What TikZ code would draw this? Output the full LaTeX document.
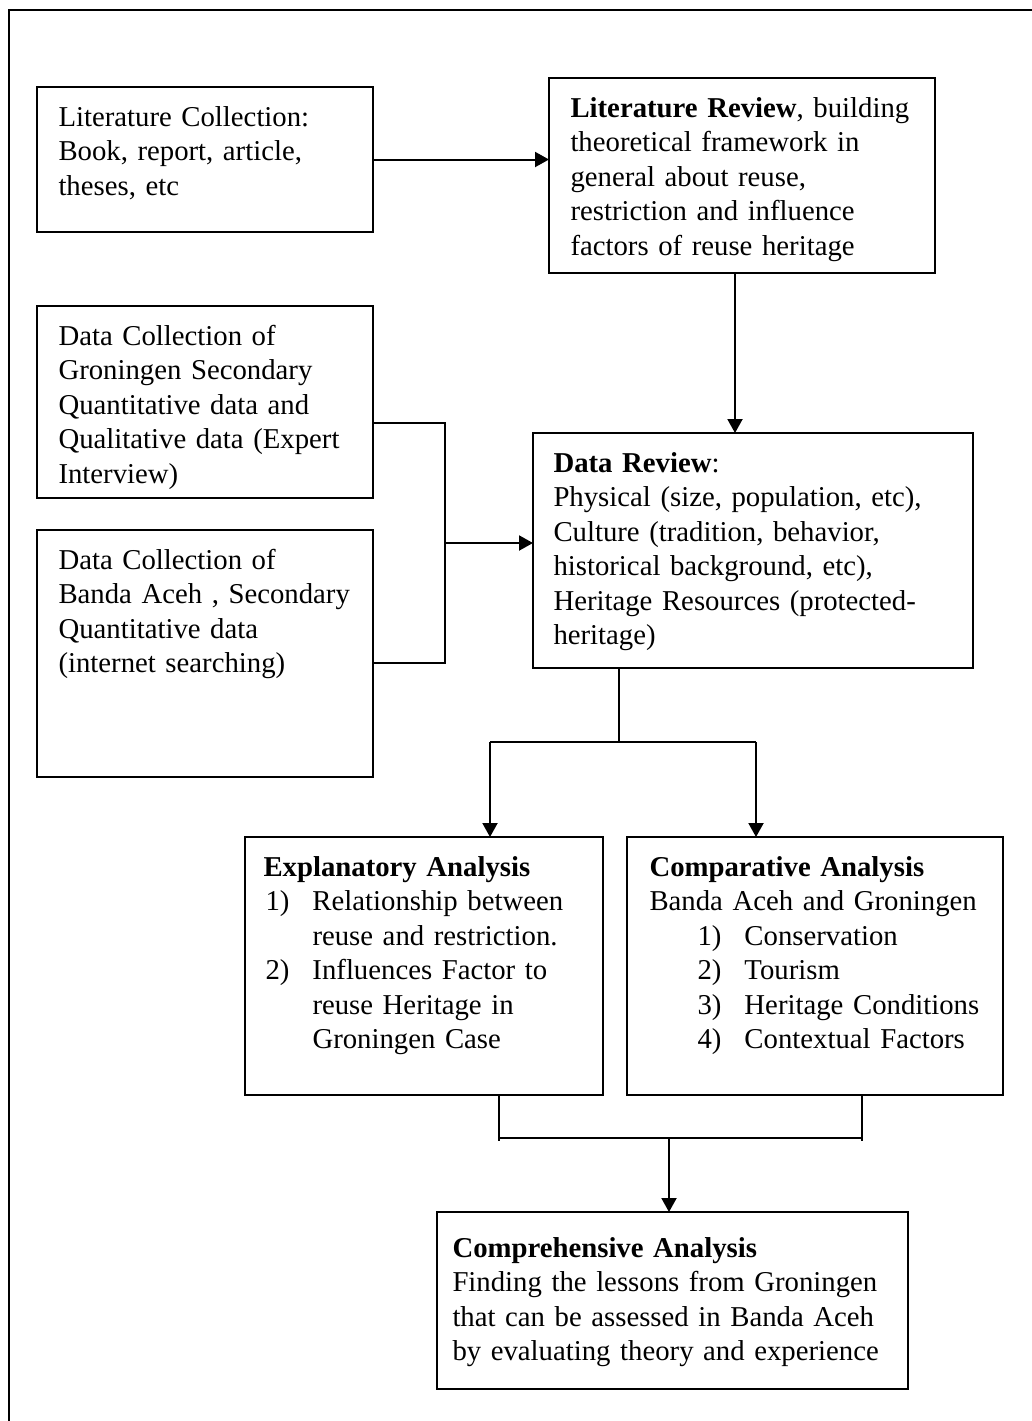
\documentclass[tikz,border=0pt]{standalone}
\usepackage{fontspec}
\setmainfont{Liberation Serif}
\usetikzlibrary{arrows.meta}
\begin{document}
\begin{tikzpicture}[x=0.4pt,y=-0.4pt,
  stepbox/.style={draw, line width=0.8pt, anchor=north west, inner sep=0pt, outer sep=0pt},
  boxtext/.style={anchor=base west, inner sep=0pt, align=left, text width=190pt,
    font=\fontsize{11.5pt}{13.8pt}\selectfont},
  link/.style={line width=0.8pt},
  arr/.style={link, -{Triangle[length=5.6pt,width=6pt]}},
  frame/.style={line width=1pt}]
\useasboundingbox (0,0) rectangle (1032,1421);
% page frame (left and top edges)
\draw[frame] (9,1430) -- (9,10) -- (1040,10);

% boxes
\node[stepbox, minimum width=134.4pt, minimum height=58pt]   (lc)  at (37,87)   {};
\node[stepbox, minimum width=154.4pt, minimum height=78pt]   (lr)  at (549,78)  {};
\node[stepbox, minimum width=134.4pt, minimum height=76.8pt] (dc1) at (37,306)  {};
\node[stepbox, minimum width=134.4pt, minimum height=98.8pt] (dc2) at (37,530)  {};
\node[stepbox, minimum width=176pt,   minimum height=94pt]   (dr)  at (533,433) {};
\node[stepbox, minimum width=143.2pt, minimum height=103.2pt] (ea) at (245,837) {};
\node[stepbox, minimum width=150.4pt, minimum height=103.2pt] (ca) at (627,837) {};
\node[stepbox, minimum width=188.4pt, minimum height=70.8pt] (co)  at (437,1212) {};

% box texts
\node[boxtext] (lc-t) at (58,126) {Literature Collection:\\Book, report, article,\\theses, etc};
\node[boxtext] (lr-t) at (570,117) {\textbf{Literature Review}, building\\theoretical framework in\\general about reuse,\\restriction and influence\\factors of reuse heritage};
\node[boxtext] (dc1-t) at (58,345) {Data Collection of\\Groningen Secondary\\Quantitative data and\\Qualitative data (Expert\\Interview)};
\node[boxtext] (dc2-t) at (58,569) {Data Collection of\\Banda Aceh , Secondary\\Quantitative data\\(internet searching)};
\node[boxtext] (dr-t) at (553,472) {\textbf{Data Review}:\\Physical (size, population, etc),\\Culture (tradition, behavior,\\historical background, etc),\\Heritage Resources (protected-\\heritage)};
\node[boxtext] (ea-t) at (263,876) {\textbf{Explanatory Analysis}\\
  \hspace*{0.8pt}\makebox[18.8pt][l]{1)}Relationship between\\
  \hspace*{0.8pt}\hspace*{18.8pt}reuse and restriction.\\
  \hspace*{0.8pt}\makebox[18.8pt][l]{2)}Influences Factor to\\
  \hspace*{0.8pt}\hspace*{18.8pt}reuse Heritage in\\
  \hspace*{0.8pt}\hspace*{18.8pt}Groningen Case};
\node[boxtext] (ca-t) at (649,876) {\textbf{Comparative Analysis}\\Banda Aceh and Groningen\\
  \hspace*{19.2pt}\makebox[18.8pt][l]{1)}Conservation\\
  \hspace*{19.2pt}\makebox[18.8pt][l]{2)}Tourism\\
  \hspace*{19.2pt}\makebox[18.8pt][l]{3)}Heritage Conditions\\
  \hspace*{19.2pt}\makebox[18.8pt][l]{4)}Contextual Factors};
\node[boxtext] (co-t) at (452,1257) {\textbf{Comprehensive Analysis}\\Finding the lessons from Groningen\\that can be assessed in Banda Aceh\\by evaluating theory and experience};

% junction points of the connectors
\coordinate (dn) at (735,0);
\coordinate (jt) at (445,423);
\coordinate (jm) at (445,543);
\coordinate (jb) at (445,663);
\coordinate (sm) at (619,742);
\coordinate (sl) at (490,742);
\coordinate (sr) at (756,742);
\coordinate (ml) at (499,1138);
\coordinate (mr) at (862,1138);
\coordinate (mm) at (669,1138);

% connectors
\draw[arr] (lc.east) -- (lc.east -| lr.west);
\draw[arr] (lr.south -| dn) -- (dr.north -| dn);
\draw[link] (dc1.east |- jt) -- (jt) -- (jb) -- (dc2.east |- jb);
\draw[arr] (jm) -- (jm -| dr.west);
\draw[link] (dr.south -| sm) -- (sm);
\draw[link] (sl) -- (sr);
\draw[arr] (sl) -- (sl |- ea.north);
\draw[arr] (sr) -- (sr |- ca.north);
\draw[link] (ea.south -| ml) -- ([yshift=-1pt]ml);
\draw[link] (ca.south -| mr) -- ([yshift=-1pt]mr);
\draw[link] (ml) -- (mr);
\draw[arr] (mm) -- (mm |- co.north);
\end{tikzpicture}
\end{document}
